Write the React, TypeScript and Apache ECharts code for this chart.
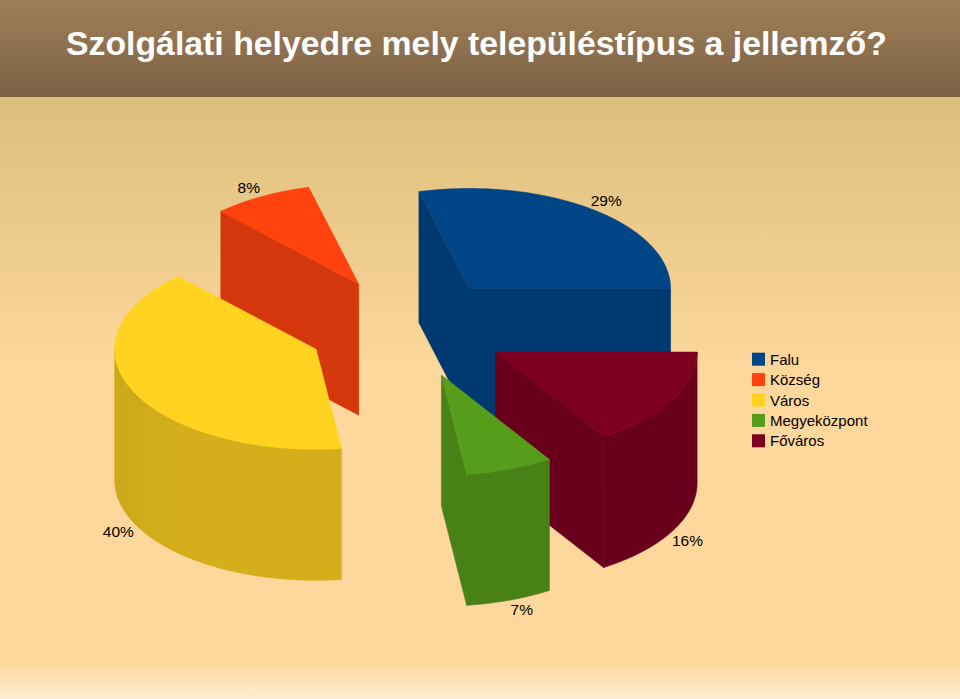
import React, { useEffect, useRef } from "react";
import * as echarts from "echarts";

const TITLE = "Szolgálati helyedre mely településtípus a jellemző?";
const CATEGORIES = ["Falu", "Község", "Város", "Megyeközpont", "Főváros"];
const VALUES = [29, 8, 40, 7, 16];
const COLORS = ["#004586", "#ff420e", "#ffd320", "#579d1c", "#7e0021"];

// Projection of the 3D pie onto the page
const CX = 407.3;
const CY = 328;
const RX = 201.5;
const RY = 100;
const DEPTH = 131;
const EXPLODE = 0.5;

const TOTAL = VALUES.reduce((a, b) => a + b, 0);
const rad = (d: number) => (d * Math.PI) / 180;
const onRim = (o: number[], deg: number) => [o[0] + RX * Math.cos(rad(deg)), o[1] - RY * Math.sin(rad(deg))];
const drop = (p: number[]) => [p[0], p[1] + DEPTH];

function shade(hex: string, k: number) {
  const n = parseInt(hex.slice(1), 16);
  const c = [(n >> 16) & 255, (n >> 8) & 255, n & 255].map((v) => Math.round(v * k));
  return `rgb(${c[0]},${c[1]},${c[2]})`;
}

function arcPoints(o: number[], a: number, b: number) {
  const pts: number[][] = [];
  for (let d = a; d < b; d += 1) pts.push(onRim(o, d));
  pts.push(onRim(o, b));
  return pts;
}

function slice(i: number) {
  let before = 0;
  for (let k = 0; k < i; k++) before += VALUES[k];
  const a = (before / TOTAL) * 360;
  const b = ((before + VALUES[i]) / TOTAL) * 360;
  const mid = (a + b) / 2;
  const apex = [
    CX + EXPLODE * RX * Math.cos(rad(mid)),
    CY - EXPLODE * RY * Math.sin(rad(mid)),
  ];
  return { a, b, mid, apex };
}

const ORDER = CATEGORIES.map((_, i) => i).sort((p, q) => slice(p).apex[1] - slice(q).apex[1]);

function renderSlice(index: number) {
  return (_params: any, api: any) => {
    const color = COLORS[index];
    const wallColor = shade(color, 0.83);
    const { a, b, mid, apex } = slice(index);
    const children: any[] = [];
    const wall = (deg: number, normal: number) => {
      if (Math.sin(rad(normal)) >= 0) return;
      const end = onRim(apex, deg);
      children.push({
        type: "polygon",
        shape: { points: [apex, end, drop(end), drop(apex)] },
        style: { fill: wallColor, stroke: wallColor, lineWidth: 0.6 },
      });
    };
    wall(a, a - 90);
    wall(b, b + 90);
    const from = Math.max(a, 180);
    const to = Math.min(b, 360);
    if (to > from) {
      const top = arcPoints(apex, from, to);
      const fill =
        from === 180
          ? new echarts.graphic.LinearGradient(0, 0, 1, 0, [
              { offset: 0, color: shade(color, 0.8) },
              { offset: 0.25, color: wallColor },
              { offset: 1, color: wallColor },
            ])
          : wallColor;
      children.push({
        type: "polygon",
        shape: { points: [...top, ...top.slice().reverse().map(drop)] },
        style: { stroke: wallColor, lineWidth: 0.6, fill },
      });
    }
    children.push({
      type: "polygon",
      shape: { points: [apex, ...arcPoints(apex, a, b)] },
      style: { fill: color, stroke: color, lineWidth: 0.6 },
    });
    const rim = onRim(apex, mid);
    const front = Math.sin(rad(mid)) < 0;
    const cos = Math.cos(rad(mid));
    children.push({
      type: "text",
      x: rim[0] + Math.sign(cos) * (10 + 6 * Math.abs(cos)),
      y: rim[1] + (front ? DEPTH + 9 : -9),
      style: {
        text: `${api.value(0)}%`,
        fill: "#000",
        font: "15.5px 'Liberation Sans', Arial, sans-serif",
        align: "center",
        verticalAlign: "middle",
      },
    });
    return { type: "group", children };
  };
}

export default function App() {
  const ref = useRef<HTMLDivElement>(null);
  useEffect(() => {
    const chart = echarts.init(ref.current!, undefined, { renderer: "svg" });
    chart.setOption({
      animation: false,
      title: {
        text: TITLE,
        left: 66,
        top: 26,
        padding: 0,
        textStyle: {
          color: "#fff",
          fontFamily: "'Liberation Sans', Arial, sans-serif",
          fontWeight: "bold",
          fontSize: 33.8,
        },
      },
      legend: {
        orient: "vertical",
        left: 752,
        top: 350,
        padding: 0,
        itemWidth: 13,
        itemHeight: 13,
        itemGap: 2,
        selectedMode: false,
        icon: "rect",
        data: CATEGORIES,
        itemStyle: { borderWidth: 0 },
        textStyle: {
          color: "#000",
          fontFamily: "'Liberation Sans', Arial, sans-serif",
          fontSize: 15,
          height: 18.4,
          lineHeight: 18.4,
          padding: [0, 0, 0, 0],
        },
      },
      graphic: [
        {
          type: "rect",
          z: -10,
          silent: true,
          shape: { x: 0, y: 0, width: 960, height: 97 },
          style: {
            fill: new echarts.graphic.LinearGradient(0, 0, 0, 1, [
              { offset: 0, color: "#a08059" },
              { offset: 1, color: "#7c6145" },
            ]),
          },
        },
        {
          type: "rect",
          z: -10,
          silent: true,
          shape: { x: 0, y: 97, width: 960, height: 602 },
          style: {
            fill: new echarts.graphic.LinearGradient(0, 0, 0, 1, [
              { offset: 0, color: "#dbbf7c" },
              { offset: 0.45, color: "#fdd79b" },
              { offset: 0.94, color: "#fdd79b" },
              { offset: 1, color: "#ffeed4" },
            ]),
          },
        },
      ],
      series: CATEGORIES.map((name, i) => ({
        type: "custom",
        name,
        coordinateSystem: "none",
        silent: true,
        z: 2 + ORDER.indexOf(i),
        itemStyle: { color: COLORS[i] },
        data: [[VALUES[i]]],
        renderItem: renderSlice(i),
      })),
    });
    return () => chart.dispose();
  }, []);
  return <div ref={ref} style={{ position: "absolute", left: 0, top: 0, width: 960, height: 699 }} />;
}
